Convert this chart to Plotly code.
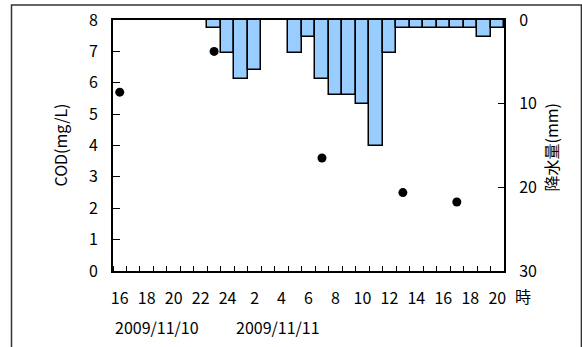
import plotly.graph_objects as go

# ---- data ----
hour_labels = ["16", "17", "18", "19", "20", "21", "22", "23", "24",
               "1", "2", "3", "4", "5", "6", "7", "8", "9", "10",
               "11", "12", "13", "14", "15", "16", "17", "18", "19", "20"]
rain_mm = [0, 0, 0, 0, 0, 0, 0, 1, 4,
           7, 6, 0, 0, 4, 2, 7, 9, 9, 10,
           15, 4, 1, 1, 1, 1, 1, 1, 2, 1]
cod_index = [0, 7, 15, 21, 25]          # category index of each sample
cod_values = [5.7, 7.0, 3.6, 2.5, 2.2]
date_labels = ["2009/11/10", "2009/11/11"]
date_start_index = [0, 9]

FONT = "Noto Sans CJK JP"
FS = 16
n = len(hour_labels)
xc = [i + 0.5 for i in range(n)]

fig = go.Figure()
fig.add_trace(go.Bar(
    x=xc, y=rain_mm, width=1, yaxis="y2",
    marker=dict(color="#99CCFF", line=dict(color="black", width=1.5)),
    showlegend=False,
))
fig.add_trace(go.Scatter(
    x=[c + 0.5 for c in cod_index], y=cod_values, mode="markers",
    marker=dict(color="black", size=9), showlegend=False,
))

fig.update_layout(
    width=582, height=347,
    margin=dict(l=113, r=78, t=20, b=76),
    paper_bgcolor="white", plot_bgcolor="white",
    font=dict(family=FONT, size=FS, color="black"),
    xaxis=dict(
        range=[0, n], showgrid=False, zeroline=False, automargin=False,
        showline=True, linecolor="black", linewidth=2, mirror=True,
        tickmode="array", tickvals=xc[::2], ticktext=hour_labels[::2],
        ticks="", ticklabelstandoff=12,
        minor=dict(tickmode="linear", tick0=0, dtick=1, ticks="inside",
                   ticklen=5, tickcolor="black", tickwidth=1, showgrid=False),
    ),
    yaxis=dict(
        range=[0, 8], dtick=1, showgrid=False, zeroline=False, automargin=False,
        showline=True, linecolor="black", linewidth=2,
        ticks="inside", ticklen=7, tickcolor="black", tickwidth=1,
        ticklabelstandoff=10,
    ),
    yaxis2=dict(
        range=[30, 0], overlaying="y", side="right", automargin=False,
        tickvals=[0, 10, 20, 30], showgrid=False, zeroline=False,
        showline=True, linecolor="black", linewidth=2,
        ticks="inside", ticklen=6, tickcolor="black", tickwidth=1,
        ticklabelstandoff=10,
    ),
    bargap=0,
)

ann = [
    dict(text="COD(mg/L)", x=-0.138, y=0.5, textangle=-90),
    dict(text="降水量(mm)", x=1.12, y=0.492, textangle=-90),
    dict(text="時", x=1.049, y=-0.1),
]
for a in ann:
    fig.add_annotation(xref="paper", yref="paper", showarrow=False,
                       xanchor="center", yanchor="middle",
                       font=dict(family=FONT, size=FS), **a)
for lbl, idx in zip(date_labels, date_start_index):
    fig.add_annotation(xref="x", yref="paper", x=idx, y=-0.224, text=lbl,
                       showarrow=False, xanchor="left", yanchor="middle",
                       font=dict(family=FONT, size=FS))

fig.add_shape(type="rect", xref="paper", yref="paper",
              x0=-0.2596, x1=1.198, y0=-0.35, y1=1.0597,
              line=dict(color="#333333", width=1.5), layer="below")

fig.write_html("out.html",
               config={"displayModeBar": False},
               post_script="document.body.style.margin='0';")
